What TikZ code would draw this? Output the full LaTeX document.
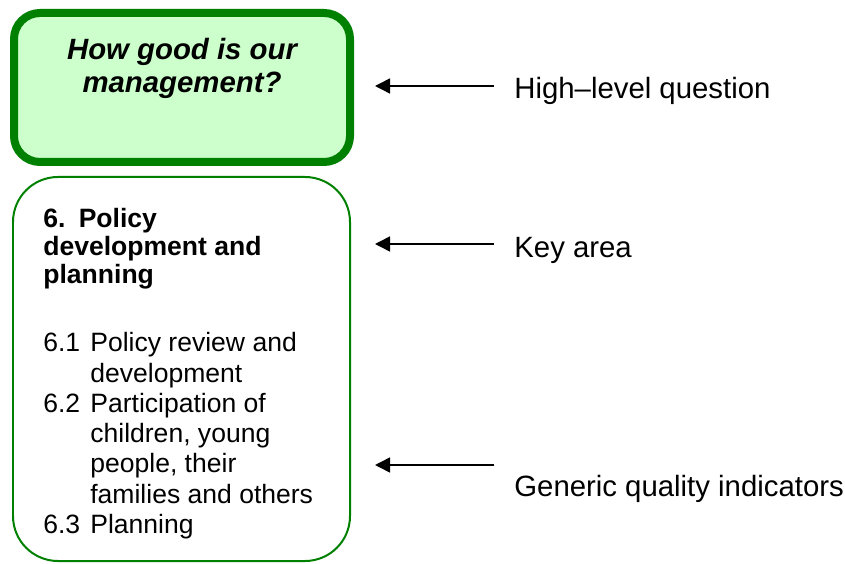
\documentclass[tikz,border=0pt]{standalone}
\usepackage{fontspec}
\setmainfont{Liberation Sans}
\usetikzlibrary{arrows.meta}
\definecolor{boxgreen}{RGB}{0,128,0}
\definecolor{boxfill}{RGB}{204,255,204}

\begin{document}
\begin{tikzpicture}[
    sidetext/.style={anchor=base west, inner sep=0pt, font=\fontsize{16.7}{19}\selectfont},
    item/.style={anchor=base west, inner sep=0pt, align=left, font=\fontsize{15.1}{17.2}\selectfont},
    pointer/.style={line width=0.03cm, -{Triangle[length=0.3cm, width=0.3cm]}}
]
\useasboundingbox (0, 0) rectangle (16.9, 11.26);

% high-level question box
\draw[boxgreen, fill=boxfill, line width=0.16cm, rounded corners=0.52cm] (0.28, 11.0) rectangle (7.0, 8.02);
\node[anchor=base, align=center, inner sep=0pt, font=\fontsize{16.7}{19.3}\selectfont\bfseries\itshape] (question) at (3.64, 9.40) {How good is our\\management?};

% key area box (base anchor sits on the last line)
\draw[boxgreen, line width=0.04cm, rounded corners=0.9cm] (0.26, 7.72) rectangle (7.0, 0.04);
\node[item, font=\fontsize{15.1}{16.2}\selectfont\bfseries] (area) at (0.86, 5.58) {6.\hspace{0.5em}Policy\\development and\\planning};

\node[item] (n61) at (0.86, 4.22) {6.1};
\node[item] (t61) at (1.8, 3.62) {Policy review and\\development};
\node[item] (n62) at (0.86, 3.01) {6.2};
\node[item] (t62) at (1.8, 1.20) {Participation of\\children, young\\people, their\\families and others};
\node[item] (n63) at (0.86, 0.60) {6.3};
\node[item] (t63) at (1.8, 0.60) {Planning};

% pointers
\coordinate (q1) at (9.88, 9.54);
\coordinate (q0) at (7.5, 9.54);
\coordinate (k1) at (9.88, 6.38);
\coordinate (k0) at (7.5, 6.38);
\coordinate (g1) at (9.88, 1.96);
\coordinate (g0) at (7.5, 1.96);
\draw[pointer] (q1) -- (q0);
\draw[pointer] (k1) -- (k0);
\draw[pointer] (g1) -- (g0);

\node[sidetext] (highlevel) at (10.28, 9.28) {High–level question};
\node[sidetext] (keyarea) at (10.28, 6.10) {Key area};
\node[sidetext] (generic) at (10.28, 1.34) {Generic quality indicators};
\end{tikzpicture}
\end{document}
